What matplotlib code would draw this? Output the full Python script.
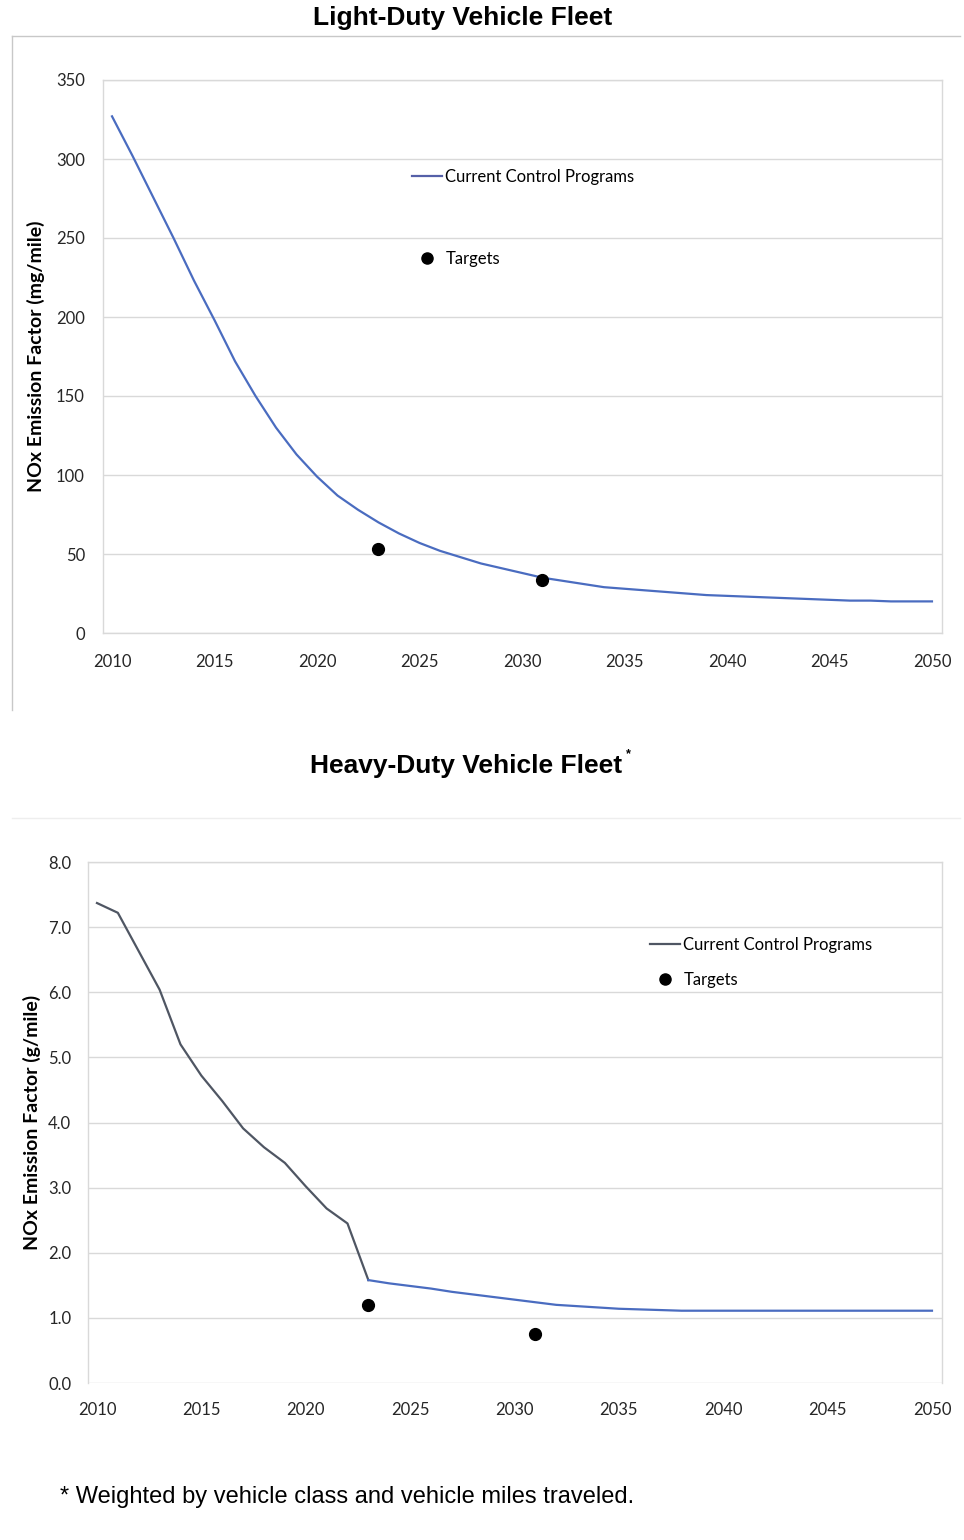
import matplotlib
matplotlib.use("Agg")
import matplotlib.pyplot as plt
from matplotlib.lines import Line2D

# ---------------------------------------------------------
# DATA
# ---------------------------------------------------------
years = list(range(2010, 2051))

ld_current = [327, 302, 276, 250, 223, 198, 172, 150, 130, 113,
              99, 87, 78, 70, 63, 57, 52, 48, 44, 41,
              38, 35, 33, 31, 29, 28, 27, 26, 25, 24,
              23.5, 23, 22.5, 22, 21.5, 21, 20.5, 20.5, 20, 20, 20]
ld_target_years = [2023, 2031]
ld_target_vals = [53, 33.5]

hd_current = [7.37, 7.22, 6.63, 6.04, 5.20, 4.72, 4.33, 3.91, 3.62, 3.38,
              3.02, 2.68, 2.45, 1.58, 1.53, 1.49, 1.45, 1.40, 1.36, 1.32,
              1.28, 1.24, 1.20, 1.18, 1.16, 1.14, 1.13, 1.12, 1.11, 1.11,
              1.11, 1.11, 1.11, 1.11, 1.11, 1.11, 1.11, 1.11, 1.11, 1.11, 1.11]
hd_target_years = [2023, 2031]
hd_target_vals = [1.20, 0.75]

x_ticks = list(range(2010, 2051, 5))
ld_yticks = list(range(0, 351, 50))
hd_yticks = [0, 1, 2, 3, 4, 5, 6, 7, 8]

# ---------------------------------------------------------
# STYLE
# ---------------------------------------------------------
W, H = 964, 1540
BLUE = "#4A6CC0"
LEGEND_BLUE = "#5560A8"
GRAY_LINE = "#4F5663"
GRID = "#D9D9D9"
TICK_FONT = "Lato"
TITLE_FONT = "Liberation Sans"

fig = plt.figure(figsize=(W / 100, H / 100), dpi=100)


def px_axes(left, top, right, bottom):
    return fig.add_axes([left / W, 1 - bottom / H, (right - left) / W, (bottom - top) / H])


def style_axes(ax, yticks, ylabels, ypad, xpad):
    ax.set_xticks(x_ticks)
    ax.set_xticklabels([str(x) for x in x_ticks], fontsize=12, family=TICK_FONT, color="#262626")
    ax.set_yticks(yticks)
    ax.set_yticklabels(ylabels, fontsize=12, family=TICK_FONT, color="#262626")
    ax.tick_params(axis="both", length=0)
    ax.tick_params(axis="y", pad=ypad)
    ax.tick_params(axis="x", pad=xpad)
    ax.grid(True, axis="y", color=GRID, lw=1.0)
    ax.set_axisbelow(True)
    for s in ax.spines.values():
        s.set_color(GRID)
        s.set_linewidth(1.0)


# ---------------------------------------------------------
# LIGHT-DUTY
# ---------------------------------------------------------
fig.text(463 / W, 1 - 18 / H, "Light-Duty Vehicle Fleet", ha="center", va="center",
         fontsize=19, fontweight="bold", family=TITLE_FONT)

# outer chart frame
fig.add_artist(Line2D([12 / W, 960 / W], [1 - 36 / H, 1 - 36 / H], color="#C8C8C8", lw=1.0))
fig.add_artist(Line2D([12 / W, 12 / W], [1 - 36 / H, 1 - 710 / H], color="#C8C8C8", lw=1.0))

ax1 = px_axes(103, 80, 942, 633)
ax1.plot(years, ld_current, color=BLUE, lw=1.6)
ax1.plot(ld_target_years, ld_target_vals, "o", color="black", ms=8.5, ls="none")
ax1.set_xlim(2009.56, 2050.49)
ax1.set_ylim(0, 350)
style_axes(ax1, ld_yticks, [str(v) for v in ld_yticks], ypad=13, xpad=15)
ax1.set_ylabel("NOx Emission Factor (mg/mile)", fontsize=14, fontweight="bold",
               family=TICK_FONT, labelpad=8)

ld_handles = [Line2D([], [], color=LEGEND_BLUE, lw=1.6),
              Line2D([], [], marker="o", color="black", ms=8, ls="none")]
fig.legend(ld_handles, ["Current Control Programs", "Targets"],
           loc="upper left", bbox_to_anchor=(412 / W, 1 - 169 / H),
           frameon=False, prop={"family": TICK_FONT, "size": 12},
           handlelength=1.8, handletextpad=0.2, labelspacing=3.95,
           borderpad=0, borderaxespad=0)

# ---------------------------------------------------------
# HEAVY-DUTY
# ---------------------------------------------------------
fig.text(466 / W, 1 - 766 / H, "Heavy-Duty Vehicle Fleet", ha="center", va="center",
         fontsize=19, fontweight="bold", family=TITLE_FONT)
fig.text(628 / W, 1 - 754 / H, "*", ha="center", va="center",
         fontsize=9, fontweight="bold", family=TITLE_FONT)

fig.add_artist(Line2D([12 / W, 960 / W], [1 - 818 / H, 1 - 818 / H], color="#EEEEEE", lw=1.0))

ax2 = px_axes(88, 862, 942, 1383)
split = hd_target_years[0] - years[0] + 1
ax2.plot(years[:split], hd_current[:split], color=GRAY_LINE, lw=1.6)
ax2.plot(years[split - 1:], hd_current[split - 1:], color=BLUE, lw=1.6)
ax2.plot(hd_target_years, hd_target_vals, "o", color="black", ms=8.5, ls="none")
ax2.set_xlim(2009.57, 2050.48)
ax2.set_ylim(0, 8)
style_axes(ax2, hd_yticks, [f"{v:.1f}" for v in hd_yticks], ypad=12, xpad=14)
ax2.spines["bottom"].set_visible(False)
ax2.set_ylabel("NOx Emission Factor (g/mile)", fontsize=14, fontweight="bold",
               family=TICK_FONT, labelpad=5)

hd_handles = [Line2D([], [], color=GRAY_LINE, lw=1.6),
              Line2D([], [], marker="o", color="black", ms=8, ls="none")]
fig.legend(hd_handles, ["Current Control Programs", "Targets"],
           loc="upper left", bbox_to_anchor=(650 / W, 1 - 937 / H),
           frameon=False, prop={"family": TICK_FONT, "size": 12},
           handlelength=1.8, handletextpad=0.2, labelspacing=1.15,
           borderpad=0, borderaxespad=0)

fig.text(60 / W, 1 - 1497 / H, "* Weighted by vehicle class and vehicle miles traveled.",
         ha="left", va="center", fontsize=17, family=TITLE_FONT)

fig.savefig("out.png", dpi=100)
